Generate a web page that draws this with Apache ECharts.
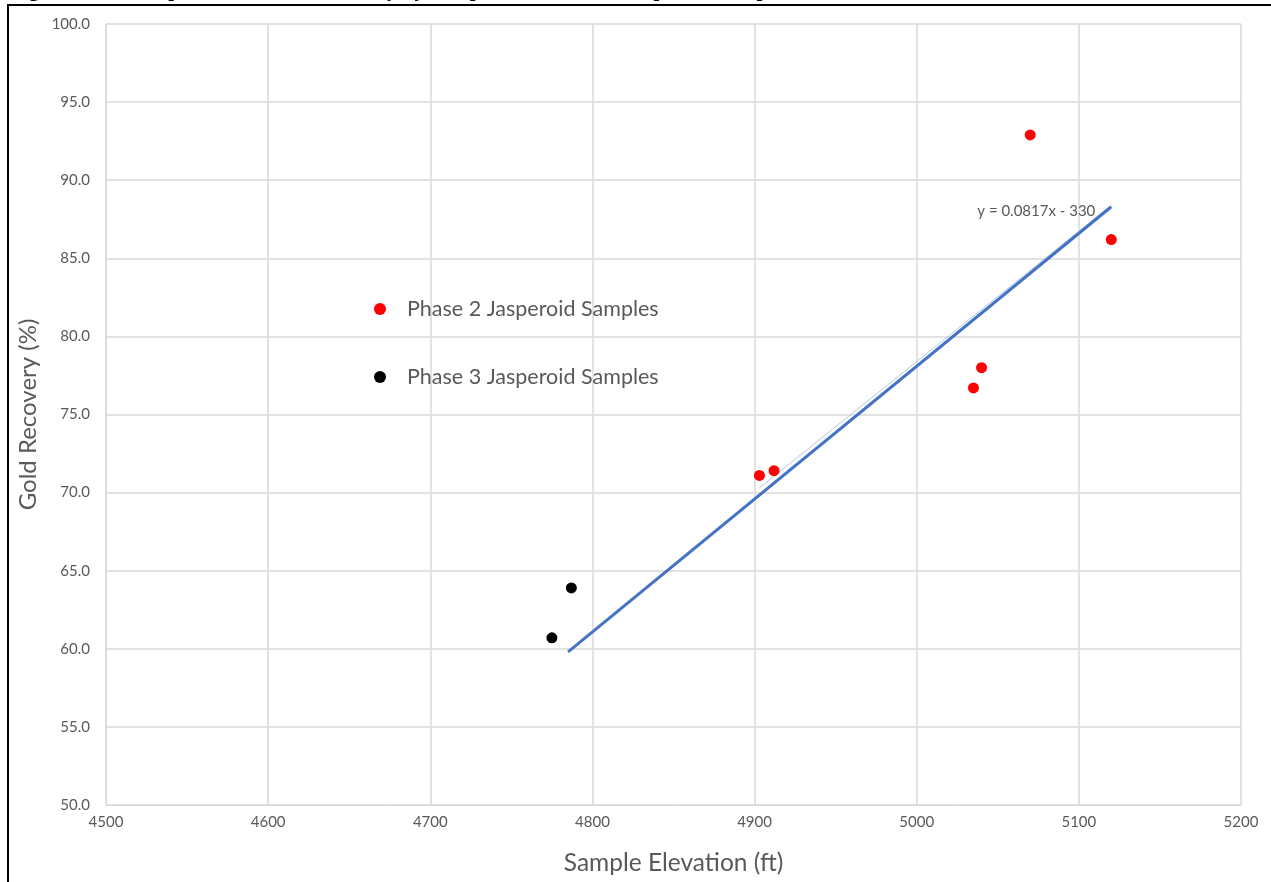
<!DOCTYPE html>
<html>
<head>
<meta charset="utf-8">
<script src="https://cdn.jsdelivr.net/npm/echarts@6/dist/echarts.min.js"></script>
<style>
  html, body { margin: 0; padding: 0; background: #fff; }
  #chart { width: 1271px; height: 882px; }
</style>
</head>
<body>
<div id="chart"></div>
<script>
// data
const phase2Name = "Phase 2 Jasperoid Samples";
const phase3Name = "Phase 3 Jasperoid Samples";
const phase2Elev = [5070, 5120, 5040, 5035, 4903, 4912];
const phase2Rec = [92.9, 86.2, 78.0, 76.7, 71.1, 71.4];
const phase3Elev = [4787, 4775];
const phase3Rec = [63.9, 60.7];
// trendline ends (as drawn)
const trendElev = [4785, 5120];
const trendRec = [59.8, 88.3];
const trendText = "y = 0.0817x - 330";
// faint second trendline
const faintElev = [4903, 5120];
const faintRec = [70.3, 88.4];
const titleText = "Figure 13-4: Comparison of Gold Recovery by Sample Elevation for Jasperoid Samples";

const zip = (xs, ys) => xs.map((x, i) => [x, ys[i]]);
const last = trendElev.length - 1;

const chart = echarts.init(document.getElementById("chart"));
const gridColor = "#d9d9d9";
const textColor = "#595959";
const font = "Lato, 'Open Sans', sans-serif";

chart.setOption({
  animation: false,
  backgroundColor: "#fff",
  textStyle: { fontFamily: font },
  grid: { left: 106, right: 30, top: 24, bottom: 77 },
  graphic: [
    {
      type: "rect",
      shape: { x: 8, y: 5, width: 1300, height: 900 },
      style: { fill: "none", stroke: "#000", lineWidth: 2 },
      z: 100,
    },
    {
      type: "text",
      left: 10,
      top: -20,
      style: {
        text: titleText,
        font: "bold 21px 'Liberation Serif', serif",
        fill: "#000",
      },
    },
  ],
  legend: {
    orient: "vertical",
    left: 369,
    top: 293,
    itemGap: 46,
    itemWidth: 12,
    itemHeight: 12,
    data: [
      { name: phase2Name, icon: "circle" },
      { name: phase3Name, icon: "circle" },
    ],
    textStyle: { color: textColor, fontSize: 21.5, padding: [0, 0, 0, 16], fontFamily: font },
  },
  xAxis: {
    type: "value",
    min: 4500,
    max: 5200,
    interval: 100,
    name: "Sample Elevation (ft)",
    nameLocation: "middle",
    nameGap: 46,
    nameTextStyle: { color: textColor, fontSize: 24.5 },
    axisLine: { show: true, lineStyle: { color: gridColor } },
    axisTick: { show: false },
    axisLabel: { color: textColor, fontSize: 15, margin: 10, formatter: (v) => String(v) },
    splitLine: { show: true, lineStyle: { color: gridColor, width: 1.5 } },
  },
  yAxis: {
    type: "value",
    min: 50,
    max: 100,
    interval: 5,
    name: "Gold Recovery (%)",
    nameLocation: "middle",
    nameGap: 66,
    nameTextStyle: { color: textColor, fontSize: 24 },
    axisLine: { show: true, lineStyle: { color: gridColor } },
    axisTick: { show: false },
    axisLabel: {
      color: textColor,
      fontSize: 15,
      margin: 16,
      formatter: (v) => v.toFixed(1),
    },
    splitLine: { show: true, lineStyle: { color: gridColor, width: 1.5 } },
  },
  series: [
    {
      name: "faint",
      type: "line",
      data: zip(faintElev, faintRec),
      symbol: "none",
      lineStyle: { color: "#b4c7e7", width: 1 },
      z: 1,
    },
    {
      name: "trend",
      type: "line",
      data: zip(trendElev, trendRec),
      symbol: "none",
      lineStyle: { color: "#4472c4", width: 3 },
      markPoint: {
        symbol: "circle",
        symbolSize: 0,
        data: [
          {
            coord: [trendElev[last], trendRec[last]],
            label: {
              show: true,
              formatter: trendText,
              position: "left",
              distance: 16,
              offset: [0, 4],
              color: textColor,
              fontSize: 15,
            },
          },
        ],
      },
      z: 2,
    },
    {
      name: phase2Name,
      type: "scatter",
      data: zip(phase2Elev, phase2Rec),
      symbol: "circle",
      symbolSize: 11,
      itemStyle: { color: "#ff0000", opacity: 1 },
      z: 3,
    },
    {
      name: phase3Name,
      type: "scatter",
      data: zip(phase3Elev, phase3Rec),
      symbol: "circle",
      symbolSize: 11,
      itemStyle: { color: "#000000", opacity: 1 },
      z: 3,
    },
  ],
});
</script>
</body>
</html>
